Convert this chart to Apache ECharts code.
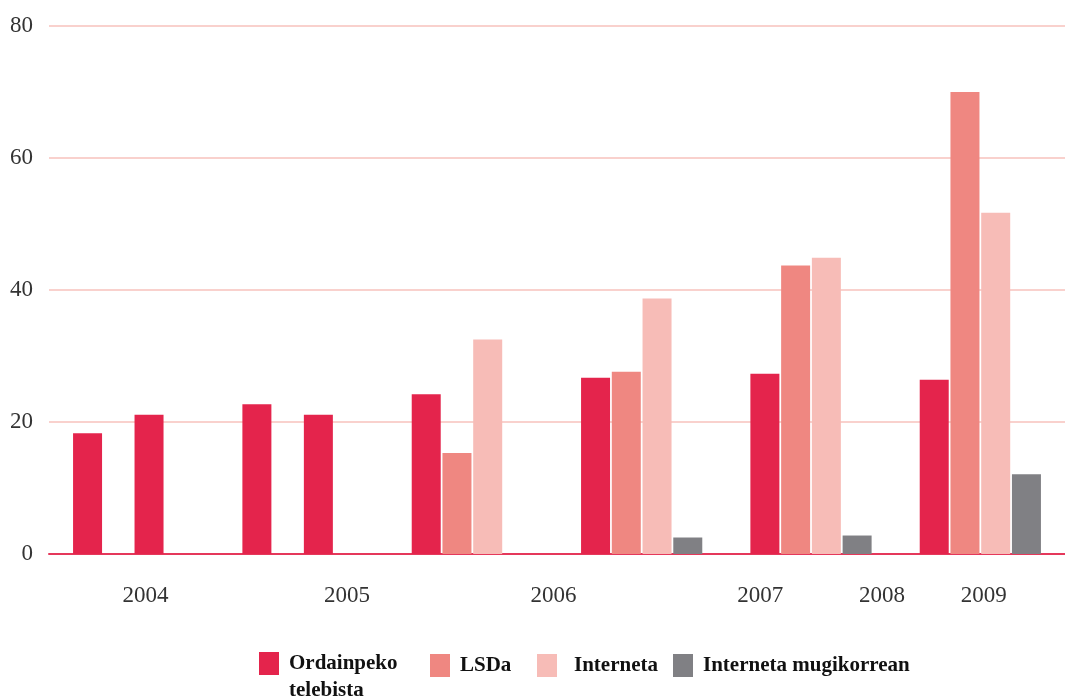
<!DOCTYPE html>
<html><head><meta charset="utf-8">
<script src="https://cdn.jsdelivr.net/npm/echarts@6/dist/echarts.min.js"></script>
<style>html,body{margin:0;padding:0;background:#fff}#c{width:1065px;height:699px}</style>
</head><body><div id="c"></div>
<script>
// ---- data ----
const categories = ['2004', '2005', '2006', '2007', '2008', '2009'];
const seriesNames = ['Ordainpeko\ntelebista', 'LSDa', 'Interneta', 'Interneta mugikorrean'];
const telebista = [18.3, 22.7, 24.2, 26.7, 27.3, 26.4];
const telebistaBis = [21.1, 21.1, null, null, null, null];
const lsda = [null, null, 15.3, 27.6, 43.7, 70.0];
const interneta = [null, null, 32.5, 38.7, 44.9, 51.7];
const mugikorrean = [null, null, null, 2.5, 2.8, 12.1];
const yearLabels = ['2004', '2005', '2006', '2007', '2008', '2009'];
const yearLabelPos = [0.57, 1.76, 2.98, 4.20, 4.92, 5.52];
const yMin = 0, yMax = 80, yStep = 20;

// ---- styles ----
const colors = ['#E4244C', '#EF8781', '#F7BCB7', '#808084'];
const legendLeft = [259, 430, 537, 673];
const legendTop = [623, 652, 652, 652];
const serif = 'Liberation Serif';

const chart = echarts.init(document.getElementById('c'), null, {renderer: 'canvas'});

function bar(name, data, color, stack) {
  const s = {
    name, type: 'bar', data, barWidth: 29, barGap: '6%',
    itemStyle: {color}, xAxisIndex: 0, yAxisIndex: 0, animation: false
  };
  if (stack) s.stack = stack;
  return s;
}

const option = {
  animation: false,
  backgroundColor: '#ffffff',
  grid: {left: 49, right: -5, top: 26, bottom: 145, containLabel: false},
  xAxis: [
    {
      type: 'category', data: categories, position: 'bottom',
      axisLine: {show: true, onZero: true, lineStyle: {color: '#E5385B', width: 2}},
      axisTick: {show: false}, axisLabel: {show: false}, splitLine: {show: false}
    },
    {
      type: 'value', min: 0, max: categories.length, position: 'bottom',
      axisLine: {show: false}, axisTick: {show: false}, splitLine: {show: false},
      axisLabel: {
        customValues: yearLabelPos,
        margin: 30,
        fontFamily: serif, fontSize: 23, color: '#333',
        formatter: function (v) {
          let best = 0, d = Infinity;
          yearLabelPos.forEach((p, i) => { if (Math.abs(p - v) < d) { d = Math.abs(p - v); best = i; } });
          return yearLabels[best];
        }
      }
    }
  ],
  yAxis: {
    type: 'value', min: yMin, max: yMax, interval: yStep,
    axisLine: {show: false}, axisTick: {show: false},
    axisLabel: {margin: 16, fontFamily: serif, fontSize: 23, color: '#333'},
    splitLine: {show: true, lineStyle: {color: '#F7C2BC', width: 1.5}}
  },
  legend: seriesNames.map((n, i) => ({
    data: [n], left: legendLeft[i], top: legendTop[i],
    orient: 'horizontal', padding: 0,
    itemWidth: 20, itemHeight: 23, icon: 'rect', selectedMode: false,
    formatter: n.indexOf('\n') >= 0 ? (name => '\n' + name) : (name => name),
    textStyle: {
      fontFamily: serif, fontWeight: 'bold', fontSize: 21, color: '#111',
      lineHeight: 27,
      padding: [0, 0, 0, i === 2 ? 12 : 5]
    }
  })),
  series: [
    bar(seriesNames[0], telebista, colors[0]),
    bar(seriesNames[1], lsda, colors[1]),
    bar(seriesNames[2], interneta, colors[2], 'slot3'),
    bar(seriesNames[3], mugikorrean, colors[3]),
    bar(seriesNames[0], telebistaBis, colors[0], 'slot3')
  ]
};
chart.setOption(option);
</script>
</body></html>
